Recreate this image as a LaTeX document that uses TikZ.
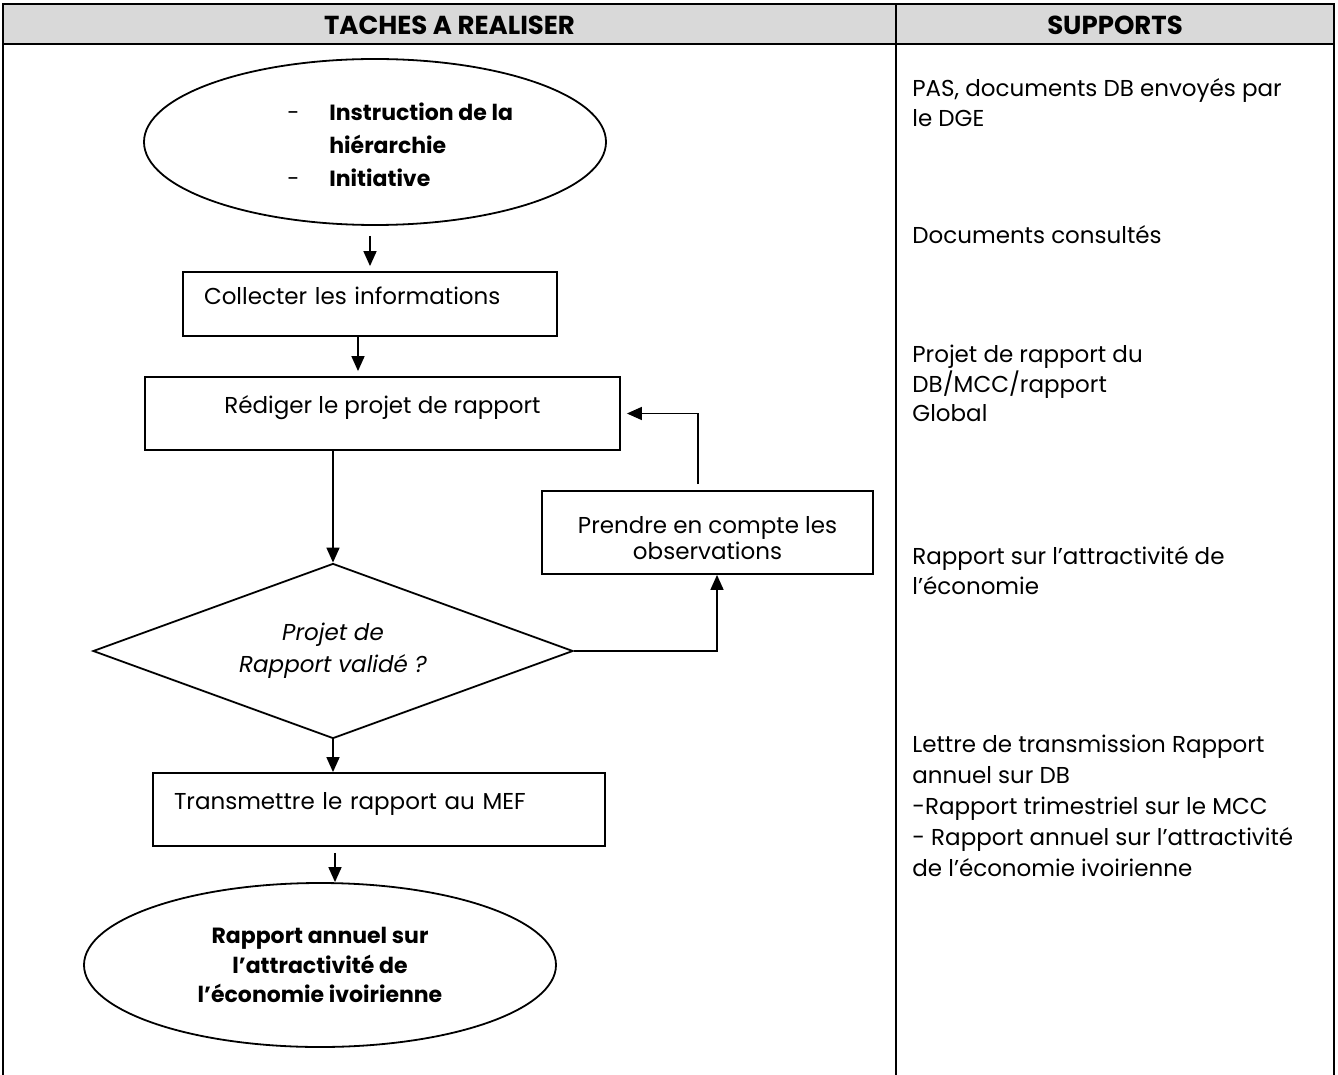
\documentclass[tikz,border=0pt]{standalone}
\usepackage{fontspec}
\setmainfont{Poppins}
\usetikzlibrary{arrows.meta,shapes.geometric,calc}
\definecolor{headgray}{HTML}{D9D9D9}

% lines of text stacked at a fixed spacing; baseline = first line
\newcommand\txtlines[4][11.5]{{\fontsize{#1}{#2}\selectfont\begin{tabular}[t]{@{}#3@{}}#4\end{tabular}}}

\begin{document}
\begin{tikzpicture}[x=0.5pt,y=-0.5pt,
  font=\fontsize{11.5}{14}\selectfont,
  shape line/.style={draw=black,line width=0.9pt},
  task/.style={shape line,rectangle,inner sep=0pt},
  leftbox/.style={task,align=left,inner xsep=10.5pt,text height=6pt,text depth=6pt},
  terminal/.style={shape line,ellipse,inner sep=0pt},
  arr/.style={line width=0.8pt,-{Triangle[length=7.5pt,width=6.5pt]}},
  grid line/.style={line width=1pt},
  side text/.style={anchor=base west,inner sep=0pt},
  head text/.style={anchor=base,font=\bfseries\fontsize{13}{15}\selectfont},
]
\useasboundingbox (0,0) rectangle (1338,1075);

% table frame and header row
\fill[headgray] (3,4) rectangle (1334,44);
\draw[grid line] (3,1075) -- (3,4) -- (1334,4) -- (1334,1075);
\draw[grid line] (3,44) -- (1334,44);
\draw[grid line] (896,4) -- (896,1075);
\node[head text] (h1) at (449.5,35) {TACHES A REALISER};
\node[head text] (h2) at (1115,35) {SUPPORTS};

% flowchart
\node[terminal,minimum width=231pt,minimum height=83pt] (start) at (375,142) {};
\node[anchor=base west,inner sep=0pt] (startlist) at (287,121)
  {\txtlines[11]{16.5pt}{p{21pt}@{}l}{-&\textbf{Instruction de la}\\&\textbf{hiérarchie}\\-&\textbf{Initiative}}};

\node[leftbox,minimum width=187pt,minimum height=32pt,text width=166pt] (collect) at (370,304) {Collecter les informations};
\node[task,minimum width=237.5pt,minimum height=36.5pt,text height=6pt,text depth=6pt] (redige) at (382.5,413.5) {Rédiger le projet de rapport};

\node[task,minimum width=165.5pt,minimum height=41.5pt] (prendre) at (707.5,532.5) {};
\node[inner sep=0pt,align=center,font=\fontsize{11.5}{13}\selectfont,yshift=-3pt] (prendretext) at (prendre) {Prendre en compte les\\observations};

\node[shape line,diamond,minimum width=240pt,minimum height=87.5pt,inner sep=0pt] (valid) at (333,651) {};
\node[inner sep=0pt,align=center,font=\itshape\fontsize{11.5}{16}\selectfont] (validtext) at (valid) {Projet de\\Rapport validé ?};

\node[leftbox,minimum width=226pt,minimum height=36.5pt,text width=205pt] (transmit) at (379,809.5) {Transmettre le rapport au MEF};
\node[terminal,minimum width=236pt,minimum height=82pt,align=center,font=\bfseries\fontsize{11}{14.75}\selectfont] (end) at (320,965) {Rapport annuel sur\\l’attractivité de\\l’économie ivoirienne};

% connectors
\coordinate (c2) at ([xshift=-6pt]collect.south);
\coordinate (p1) at ([xshift=4.75pt]prendre.south);
\coordinate (p2) at ([xshift=-4.75pt]prendre.north);
\coordinate (t1) at ([xshift=-22pt]transmit.south);
\draw[arr,shorten <=5pt,shorten >=2.5pt] (start.south -| collect.north) -- (collect.north);
\draw[arr,shorten >=2.5pt] (c2) -- (c2 |- redige.north);
\draw[arr] (redige.south -| valid.north) -- (valid.north);
\draw[arr] (valid.east) -| (p1);
\draw[arr,shorten <=3pt,shorten >=3pt] (p2) |- (redige.east);
\draw[arr] (valid.south) -- (valid.south |- transmit.north);
\draw[arr,shorten <=3pt] (t1) -- (t1 |- end.north);

% supports column
\node[side text] (s1) at (912,97) {\txtlines{15pt}{l}{PAS, documents DB envoyés par\\le DGE}};
\node[side text] (s2) at (912,244) {Documents consultés};
\node[side text] (s3) at (912,362) {\txtlines{14.5pt}{l}{Projet de rapport du\\DB/MCC/rapport\\Global}};
\node[side text] (s4) at (912,564) {\txtlines{15pt}{l}{Rapport sur l’attractivité de\\l’économie}};
\node[side text] (s5) at (912,752) {\txtlines{15.5pt}{l}{Lettre de transmission Rapport\\annuel sur DB\\-Rapport trimestriel sur le MCC\\- Rapport annuel sur l’attractivité\\de l’économie ivoirienne}};
\end{tikzpicture}
\end{document}
